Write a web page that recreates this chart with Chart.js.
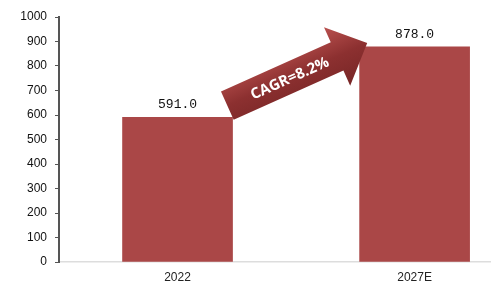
<!DOCTYPE html>
<html>
<head>
<meta charset="utf-8">
<script src="https://cdn.jsdelivr.net/npm/chart.js@4"></script>
<style>
  html, body { margin: 0; padding: 0; background: #fff; }
  #wrap { width: 495px; height: 287px; }
</style>
</head>
<body>
<div id="wrap"><canvas id="chart"></canvas></div>
<script>
const categories = ["2022", "2027E"];
const values = [591.0, 878.0];
const cagrText = "CAGR=8.2%";

const barColor = 'rgb(170, 71, 71)';

// arrow between the tops of the two bars
const cagrArrow = {
    id: 'cagrArrow',
    afterDatasetsDraw(chart) {
        const ctx = chart.ctx;
        const x = chart.scales.x, y = chart.scales.y;
        const x0 = x.getPixelForValue(0.21), y0 = y.getPixelForValue(638);
        const x1 = x.getPixelForValue(0.8), y1 = y.getPixelForValue(894);
        const dx = x1 - x0, dy = y1 - y0;
        const len = Math.sqrt(dx * dx + dy * dy);
        const ang = Math.atan2(dy, dx);
        const half = 15.5, headHalf = 32, headLen = 33;

        ctx.save();
        ctx.translate(x0, y0);
        ctx.rotate(ang);
        const g = ctx.createLinearGradient(0, -headHalf, 0, headHalf);
        g.addColorStop(0, 'rgb(185, 80, 78)');
        g.addColorStop(0.5, 'rgb(140, 48, 48)');
        g.addColorStop(1, 'rgb(120, 38, 38)');
        ctx.fillStyle = g;
        ctx.beginPath();
        ctx.moveTo(0, -half);
        ctx.lineTo(len - headLen, -half);
        ctx.lineTo(len - headLen, -headHalf);
        ctx.lineTo(len, 0);
        ctx.lineTo(len - headLen, headHalf);
        ctx.lineTo(len - headLen, half);
        ctx.lineTo(0, half);
        ctx.closePath();
        ctx.fill();

        ctx.fillStyle = '#fff';
        ctx.font = 'bold 15px "Open Sans"';
        ctx.textAlign = 'center';
        ctx.textBaseline = 'middle';
        ctx.fillText(cagrText, (len - headLen) / 2 + 8, 1);
        ctx.restore();
    }
};

const valueLabels = {
    id: 'valueLabels',
    afterDatasetsDraw(chart) {
        const ctx = chart.ctx;
        const meta = chart.getDatasetMeta(0);
        ctx.save();
        ctx.fillStyle = '#111';
        ctx.font = '13px "Liberation Mono"';
        ctx.textAlign = 'center';
        ctx.textBaseline = 'bottom';
        meta.data.forEach((bar, i) => {
            ctx.fillText(values[i].toFixed(1), bar.x, bar.y - 6);
        });
        ctx.restore();
    }
};

new Chart(document.getElementById('chart').getContext('2d'), {
    type: 'bar',
    data: {
        datasets: [{
            data: values.map((v, i) => ({x: i, y: v})),
            backgroundColor: barColor,
            borderWidth: 0,
            barThickness: 110
        }]
    },
    options: {
        responsive: true,
        maintainAspectRatio: false,
        animation: false,
        layout: {padding: {top: 17, right: 5, left: 0, bottom: 0}},
        plugins: {legend: {display: false}, tooltip: {enabled: false}},
        scales: {
            x: {
                type: 'linear',
                min: -0.5,
                max: 1.318,
                offset: false,
                afterBuildTicks: (s) => { s.ticks = [{value: 0}, {value: 1}]; },
                afterFit: (s) => { s.height = 25; },
                grid: {display: false, offset: false, drawTicks: false},
                border: {color: '#ddd', width: 1.5},
                ticks: {
                    callback: (v) => categories[v],
                    color: '#222',
                    font: {family: 'Liberation Sans', size: 12},
                    padding: 8,
                    maxRotation: 0
                }
            },
            y: {
                min: 0,
                max: 1000,
                afterFit: (s) => { s.width = 59; },
                grid: {display: true, drawOnChartArea: false, drawTicks: true, tickLength: 4, color: '#555', lineWidth: 1},
                border: {color: '#555', width: 2},
                ticks: {
                    stepSize: 100,
                    callback: (v) => String(v),
                    color: '#111',
                    font: {family: 'Liberation Sans', size: 12},
                    padding: 8
                }
            }
        }
    },
    plugins: [cagrArrow, valueLabels]
});
</script>
</body>
</html>
